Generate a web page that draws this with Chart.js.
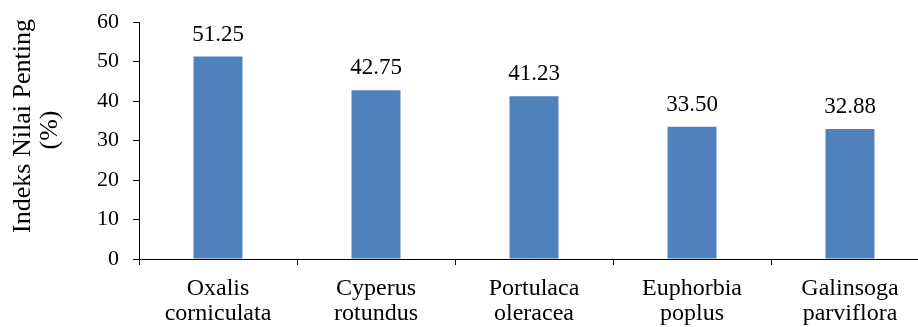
<!DOCTYPE html>
<html>
<head>
<meta charset="utf-8">
<script src="https://cdn.jsdelivr.net/npm/chart.js@4/dist/chart.umd.min.js"></script>
<style>
  html, body { margin: 0; padding: 0; background: #fff; overflow: hidden; }
  #wrap { width: 932px; height: 327px; }
</style>
</head>
<body>
<div id="wrap"><canvas id="c" width="932" height="327"></canvas></div>
<script>
// Species names (two-line labels) and importance values
const categories = [
  ['Oxalis', 'corniculata'],
  ['Cyperus', 'rotundus'],
  ['Portulaca', 'oleracea'],
  ['Euphorbia', 'poplus'],
  ['Galinsoga', 'parviflora']
];
const values = [51.25, 42.75, 41.23, 33.50, 32.88];
const yTitleLines = ['Indeks Nilai Penting', '(%)'];
const yMin = 0, yMax = 60, yStep = 10;

const FONT = "'Liberation Serif', 'Times New Roman', serif";
Chart.defaults.font.family = FONT;

// Value labels above each bar
const valueLabels = {
  id: 'valueLabels',
  afterDatasetsDraw(chart) {
    const ctx = chart.ctx;
    const meta = chart.getDatasetMeta(0);
    ctx.save();
    ctx.font = '23px ' + FONT;
    ctx.fillStyle = '#000';
    ctx.textAlign = 'center';
    ctx.textBaseline = 'alphabetic';
    meta.data.forEach((bar, i) => {
      ctx.fillText(values[i].toFixed(2), bar.x, bar.y - 16);
    });
    ctx.restore();
  }
};

// Two-line rotated y-axis title
const yTitle = {
  id: 'yTitle',
  afterDraw(chart) {
    const ctx = chart.ctx;
    const pos = [[30, 126], [57, 130]];
    ctx.save();
    ctx.font = '26px ' + FONT;
    ctx.fillStyle = '#000';
    ctx.textAlign = 'center';
    ctx.textBaseline = 'alphabetic';
    yTitleLines.forEach((t, i) => {
      ctx.save();
      ctx.translate(pos[i][0], pos[i][1]);
      ctx.rotate(-Math.PI / 2);
      ctx.fillText(t, 0, 0);
      ctx.restore();
    });
    ctx.restore();
  }
};

new Chart(document.getElementById('c'), {
  type: 'bar',
  data: {
    labels: categories,
    datasets: [{
      data: values,
      backgroundColor: '#4F81BD',
      borderWidth: 0,
      barPercentage: 0.31,
      categoryPercentage: 1
    }]
  },
  options: {
    responsive: false,
    animation: false,
    devicePixelRatio: 1,
    layout: { padding: { top: 22, right: 3, left: 0, bottom: 0 } },
    plugins: {
      legend: { display: false },
      tooltip: { enabled: false }
    },
    scales: {
      x: {
        grid: { display: true, drawOnChartArea: false, offset: true, color: '#000', tickLength: 6, lineWidth: 1 },
        border: { display: true, color: '#000', width: 1 },
        ticks: { color: '#000', font: { family: FONT, size: 24, lineHeight: 1.05 }, padding: 11, maxRotation: 0, autoSkip: false },
        afterFit(scale) { scale.height = 68; }
      },
      y: {
        min: yMin, max: yMax,
        grid: { display: true, drawOnChartArea: false, color: '#000', tickLength: 6, lineWidth: 1 },
        border: { display: true, color: '#000', width: 1 },
        ticks: { stepSize: yStep, color: '#000', font: { family: FONT, size: 22 }, padding: 14 },
        afterFit(scale) { scale.width = 139; scale.paddingTop = 0; }
      }
    }
  },
  plugins: [valueLabels, yTitle]
});
</script>
</body>
</html>
